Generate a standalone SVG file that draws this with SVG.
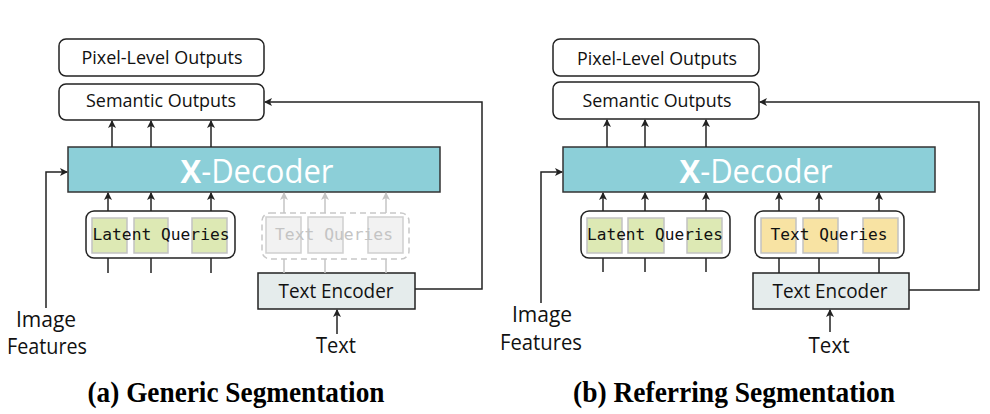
<svg xmlns="http://www.w3.org/2000/svg" width="990" height="414" viewBox="0 0 990 414">
<defs>
<marker id="ah" markerWidth="10" markerHeight="10" refX="7" refY="4" orient="auto" markerUnits="userSpaceOnUse">
<path d="M0,0 L8,4 L0,8 L2,4 z" fill="#222"/>
</marker>
<marker id="ahg" markerWidth="10" markerHeight="10" refX="7" refY="4" orient="auto" markerUnits="userSpaceOnUse">
<path d="M0,0 L8,4 L0,8 L2,4 z" fill="#c4c4c4"/>
</marker>
<style>
.out{fill:#fff;stroke:#222;stroke-width:1.5}
.dec{fill:#8ccfd8;stroke:#333;stroke-width:1.5}
.enc{fill:#e5ecec;stroke:#222;stroke-width:1.5}
.cont{fill:#fff;stroke:#222;stroke-width:1.5}
.contf{fill:#fff;stroke:#c8c8c8;stroke-width:1.5;stroke-dasharray:6 4}
.g{fill:#dde9b4;stroke:#c2c2c2;stroke-width:1.5}
.y{fill:#f8e3a3;stroke:#c2c2c2;stroke-width:1.5}
.f{fill:#f2f2f2;stroke:#cfcfcf;stroke-width:1.5}
.ln{fill:none;stroke:#222;stroke-width:1.5}
.lnf{fill:none;stroke:#c4c4c4;stroke-width:1.5}
.ar{marker-end:url(#ah)}
.arf{marker-end:url(#ahg)}
.t{font-family:"Open Sans","Liberation Sans",sans-serif;fill:#111;text-anchor:middle}
.mono{font-family:"DejaVu Sans Mono","Liberation Mono",monospace;font-size:16.5px;fill:#111;text-anchor:middle}
.cap{font-family:"Liberation Serif","Times New Roman",serif;font-weight:bold;font-size:30px;fill:#000;text-anchor:middle}
.xd{font-family:"Open Sans","Liberation Sans",sans-serif;font-size:32px;fill:#fff;text-anchor:middle}
</style>
</defs>

<!-- Panel (a) -->
<g id="a-pixel"><rect class="out" x="59" y="39" width="205" height="37" rx="7"/><text class="t" x="162" y="64" font-size="18.5" textLength="161" lengthAdjust="spacingAndGlyphs">Pixel-Level Outputs</text></g>
<g id="a-semantic"><rect class="out" x="59" y="84" width="205" height="36" rx="7"/><text class="t" x="161" y="107" font-size="18.5" textLength="150" lengthAdjust="spacingAndGlyphs">Semantic Outputs</text></g>
<g id="a-decoder"><rect class="dec" x="68" y="147" width="372" height="45"/><text class="xd" x="257" y="183" textLength="153" lengthAdjust="spacingAndGlyphs"><tspan font-weight="bold">X</tspan>-Decoder</text></g>
<g id="a-latent"><rect class="cont" x="86" y="211" width="149" height="47" rx="8"/><rect class="g" x="92" y="218" width="35" height="35"/><rect class="g" x="134" y="218" width="34" height="35"/><rect class="g" x="192" y="218" width="35" height="35"/><text class="mono" x="161" y="240" textLength="137" lengthAdjust="spacingAndGlyphs">Latent Queries</text></g>
<g id="a-textqueries"><rect class="contf" x="262" y="213" width="147" height="46" rx="8"/><rect class="f" x="266" y="217" width="35" height="36"/><rect class="f" x="308" y="217" width="35" height="36"/><rect class="f" x="368" y="217" width="35" height="36"/><text class="mono" x="334" y="240" textLength="118" lengthAdjust="spacingAndGlyphs" style="fill:#c4c4c4">Text Queries</text></g>
<g id="a-encoder"><rect class="enc" x="258" y="273" width="157" height="36"/><text class="t" x="336" y="298" font-size="19.5" textLength="115" lengthAdjust="spacingAndGlyphs">Text Encoder</text></g>
<g id="a-image"><text class="t" x="46" y="327" font-size="21">Image</text><text class="t" x="47" y="354" font-size="21" textLength="80" lengthAdjust="spacingAndGlyphs">Features</text></g>
<g id="a-text"><text class="t" x="336" y="353" font-size="21" textLength="40" lengthAdjust="spacingAndGlyphs">Text</text></g>
<text class="cap" x="236" y="402" textLength="297" lengthAdjust="spacingAndGlyphs">(a) Generic Segmentation</text>

<!-- Panel (b) -->
<g id="b-pixel"><rect class="out" x="553" y="39" width="206" height="37" rx="7"/><text class="t" x="657" y="65" font-size="18.5" textLength="160" lengthAdjust="spacingAndGlyphs">Pixel-Level Outputs</text></g>
<g id="b-semantic"><rect class="out" x="553" y="82" width="206" height="37" rx="7"/><text class="t" x="657" y="107" font-size="18.5" textLength="149" lengthAdjust="spacingAndGlyphs">Semantic Outputs</text></g>
<g id="b-decoder"><rect class="dec" x="563" y="147" width="372" height="45"/><text class="xd" x="756" y="183" textLength="153" lengthAdjust="spacingAndGlyphs"><tspan font-weight="bold">X</tspan>-Decoder</text></g>
<g id="b-latent"><rect class="cont" x="581" y="211" width="149" height="47" rx="8"/><rect class="g" x="587" y="218" width="35" height="35"/><rect class="g" x="628" y="218" width="36" height="35"/><rect class="g" x="687" y="218" width="35" height="35"/><text class="mono" x="655" y="240" textLength="136" lengthAdjust="spacingAndGlyphs">Latent Queries</text></g>
<g id="b-textqueries"><rect class="cont" x="755" y="211" width="149" height="47" rx="8"/><rect class="y" x="761" y="218" width="35" height="35"/><rect class="y" x="803" y="218" width="35" height="35"/><rect class="y" x="863" y="218" width="35" height="35"/><text class="mono" x="829" y="240" textLength="117" lengthAdjust="spacingAndGlyphs">Text Queries</text></g>
<g id="b-encoder"><rect class="enc" x="753" y="273" width="156" height="36"/><text class="t" x="830" y="298" font-size="19.5" textLength="115" lengthAdjust="spacingAndGlyphs">Text Encoder</text></g>
<g id="b-image"><text class="t" x="542" y="322" font-size="21">Image</text><text class="t" x="541" y="350" font-size="21" textLength="82" lengthAdjust="spacingAndGlyphs">Features</text></g>
<g id="b-text"><text class="t" x="829" y="353" font-size="21" textLength="41" lengthAdjust="spacingAndGlyphs">Text</text></g>
<text class="cap" x="734" y="402" textLength="322" lengthAdjust="spacingAndGlyphs">(b) Referring Segmentation</text>

<g id="connectors">
<!-- (a) -->
<line class="ln ar" x1="112" y1="147" x2="112" y2="121"/>
<line class="ln ar" x1="151" y1="147" x2="151" y2="121"/>
<line class="ln ar" x1="211" y1="147" x2="211" y2="121"/>
<line class="ln ar" x1="108" y1="211" x2="108" y2="193"/>
<line class="ln ar" x1="151" y1="211" x2="151" y2="193"/>
<line class="ln ar" x1="211" y1="211" x2="211" y2="193"/>
<line class="ln" x1="108" y1="258" x2="108" y2="273"/>
<line class="ln" x1="151" y1="258" x2="151" y2="273"/>
<line class="ln" x1="211" y1="258" x2="211" y2="273"/>
<line class="lnf arf" x1="284" y1="213" x2="284" y2="193"/>
<line class="lnf arf" x1="325" y1="213" x2="325" y2="193"/>
<line class="lnf arf" x1="386" y1="213" x2="386" y2="193"/>
<line class="lnf" x1="284" y1="259" x2="284" y2="273"/>
<line class="lnf" x1="325" y1="259" x2="325" y2="273"/>
<line class="lnf" x1="386" y1="259" x2="386" y2="273"/>
<polyline class="ln ar" points="415,289 482,289 482,102 265,102"/>
<polyline class="ln ar" points="46,308 46,172 67,172"/>
<line class="ln ar" x1="337" y1="334" x2="337" y2="310"/>
<!-- (b) -->
<line class="ln ar" x1="607" y1="147" x2="607" y2="120"/>
<line class="ln ar" x1="645" y1="147" x2="645" y2="120"/>
<line class="ln ar" x1="706" y1="147" x2="706" y2="120"/>
<line class="ln ar" x1="603" y1="211" x2="603" y2="193"/>
<line class="ln ar" x1="645" y1="211" x2="645" y2="193"/>
<line class="ln ar" x1="706" y1="211" x2="706" y2="193"/>
<line class="ln" x1="603" y1="258" x2="603" y2="272"/>
<line class="ln" x1="645" y1="258" x2="645" y2="272"/>
<line class="ln" x1="706" y1="258" x2="706" y2="272"/>
<line class="ln ar" x1="779" y1="211" x2="779" y2="193"/>
<line class="ln ar" x1="819" y1="211" x2="819" y2="193"/>
<line class="ln ar" x1="879" y1="211" x2="879" y2="193"/>
<line class="ln" x1="779" y1="258" x2="779" y2="273"/>
<line class="ln" x1="819" y1="258" x2="819" y2="273"/>
<line class="ln" x1="879" y1="258" x2="879" y2="273"/>
<polyline class="ln ar" points="909,290 979,290 979,102 760,102"/>
<polyline class="ln ar" points="541,303 541,172 562,172"/>
<line class="ln ar" x1="830" y1="332" x2="830" y2="310"/>
</g>
</svg>
